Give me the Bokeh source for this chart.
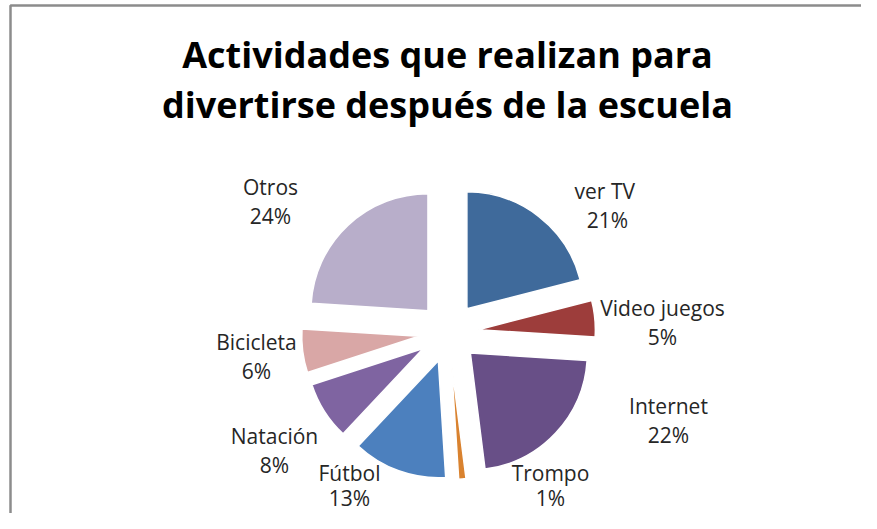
import numpy as np
from bokeh.plotting import figure
from bokeh.models import Range1d, ColumnDataSource
from bokeh.core.properties import value
from bokeh.embed import file_html
from bokeh.resources import INLINE

# ---- data ----
title_lines = ["Actividades que realizan para", "divertirse después de la escuela"]
categories = ["ver  TV", "Video juegos", "Internet", "Trompo", "Fútbol", "Natación", "Bicicleta", "Otros"]
percent = [21, 5, 22, 1, 13, 8, 6, 24]
colors = ["#3F6A9B", "#9D3D3B", "#684F87", "#D9822F", "#4C80BE", "#7F64A1", "#D9A7A6", "#B8AECA"]

# ---- layout (pixel positions inside the figure) ----
W, H = 861, 513
cx, cy = 448, 332          # pie centre
R = 117                    # pie radius
EXPLODE = 30               # explosion distance
label_x = [607, 662, 668, 550, 349, 274, 256, 270]
label_y = [190, 307, 405, 472, 472, 435, 341, 186]
line_gap = [29, 29, 29, 25, 25, 29, 29, 29]

p = figure(width=W, height=H, output_backend="svg", toolbar_location=None,
           x_range=Range1d(0, W), y_range=Range1d(-H, 0),
           min_border=0, background_fill_color="white", border_fill_color="white")
p.axis.visible = False
p.grid.visible = False
p.outline_line_color = None

vals = np.array(percent, dtype=float)
total = vals.sum()
b = np.cumsum(vals) / total
a = b - vals / total
start = np.pi / 2 - 2 * np.pi * b
end = np.pi / 2 - 2 * np.pi * a
mid = (start + end) / 2
wx = cx + EXPLODE * np.cos(mid)
wy = -cy + EXPLODE * np.sin(mid)

src = ColumnDataSource(dict(x=wx, y=wy, s=start, e=end, c=colors))
p.wedge(x="x", y="y", radius=R, start_angle="s", end_angle="e", direction="anticlock",
        fill_color="c", line_color="white", line_width=1.5, source=src)

# labels
lsrc = ColumnDataSource(dict(
    x=label_x, y1=[-v for v in label_y], y2=[-(v + g) for v, g in zip(label_y, line_gap)],
    name=categories, pct=[f"{int(v)}%" for v in percent]))
for col, ycol in (("name", "y1"), ("pct", "y2")):
    p.text(x="x", y=ycol, text=col, source=lsrc, text_font=value("Open Sans"),
           text_font_size="21px", text_color="#262626", text_align="center",
           text_baseline="middle")

# title
p.text(x=[447, 447], y=[-54, -104], text=title_lines, text_font=value("Open Sans"),
       text_font_style="bold", text_font_size="36px", text_color="#000000",
       text_align="center", text_baseline="middle")

# chart-area frame (left and top edges visible)
p.line(x=[10, 10, W], y=[-H, -5, -5], line_color="#8C8C8C", line_width=2.5)

open("out.html", "w").write(file_html(p, INLINE))
